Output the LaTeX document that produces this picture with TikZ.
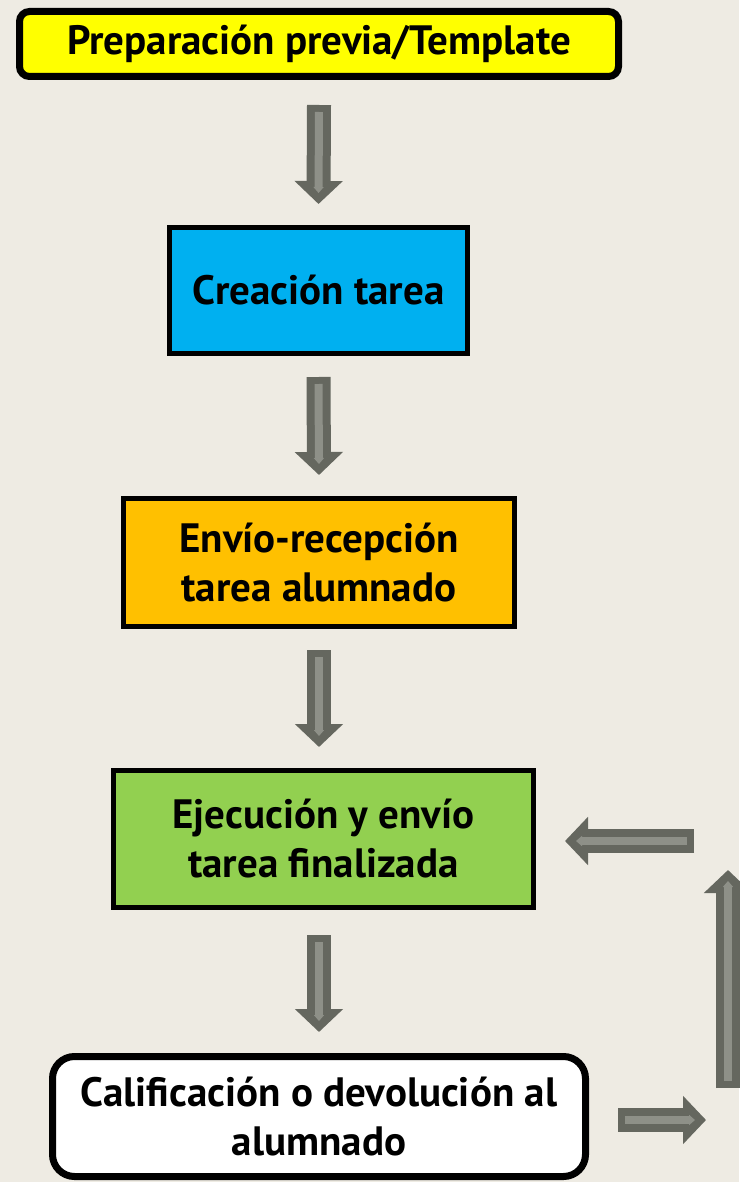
\documentclass[tikz,border=0pt]{standalone}
\usepackage{fontspec}
\setmainfont{PT Sans}
\usetikzlibrary{arrows.meta}
\definecolor{bgbeige}{HTML}{EEEBE3}
\definecolor{boxyellow}{HTML}{FFFF00}
\definecolor{boxblue}{HTML}{00B0F0}
\definecolor{boxorange}{HTML}{FFC000}
\definecolor{boxgreen}{HTML}{92D050}
\definecolor{arrowdark}{HTML}{65675F}
\definecolor{arrowlight}{HTML}{8E9088}
\tikzset{
  stepbox/.style={draw=black, line width=5pt, align=center, inner sep=0pt,
    font=\fontsize{41}{49}\selectfont\bfseries},
  roundbox/.style={stepbox, line width=7pt, rounded corners=#1},
  flow/.style={draw=arrowdark, line width=24pt, -{Triangle[length=23pt,width=47pt]},
    postaction={draw=arrowlight, line width=8pt, shorten <=7pt, shorten >=11pt,
      -{Triangle[length=6pt,width=10pt]}}}
}
\begin{document}
\begin{tikzpicture}[x=1pt,y=1pt]
\def\gapout{25pt}
\def\gapin{21pt}
\useasboundingbox[fill=bgbeige] (0,0) rectangle (739,-1182);
\node[roundbox=10pt, fill=boxyellow, minimum width=599pt, minimum height=65pt] (prep) at (319,-44) {Preparación previa/Template};
\node[stepbox, fill=boxblue, minimum width=298pt, minimum height=126pt] (crea) at (318.5,-290.5) {Creación tarea};
\node[stepbox, fill=boxorange, minimum width=391pt, minimum height=128pt] (envio) at (319,-562.5) {Envío-recepción\\tarea alumnado};
\node[stepbox, fill=boxgreen, minimum width=420pt, minimum height=137pt] (ejec) at (323.5,-839) {Ejecución y envío\\tarea finalizada};
\node[roundbox=22pt, fill=white, minimum width=533pt, minimum height=120pt] (calif) at (319,-1116.5) {Calificación o devolución al\\alumnado};
\coordinate (loopr) at (706,-1120);
\coordinate (loopb) at (728,-1088);
\coordinate (loopt) at (728,-870);
\coordinate (loopl) at (694,-841);
\draw[flow] ([yshift=-\gapout]prep.south) -- ([yshift=\gapin]crea.north);
\draw[flow] ([yshift=-\gapin]crea.south) -- ([yshift=\gapin]envio.north);
\draw[flow] ([yshift=-\gapin]envio.south) -- ([yshift=\gapin]envio.south |- ejec.north);
\draw[flow] ([yshift=-\gapout]ejec.south -| calif.north) -- ([yshift=\gapin]calif.north);
\draw[flow] ([xshift=29pt]calif.east |- loopr) -- (loopr);
\draw[flow] (loopb) -- (loopt);
\draw[flow] (loopl) -- ([xshift=29pt]ejec.east |- loopl);
\end{tikzpicture}
\end{document}
